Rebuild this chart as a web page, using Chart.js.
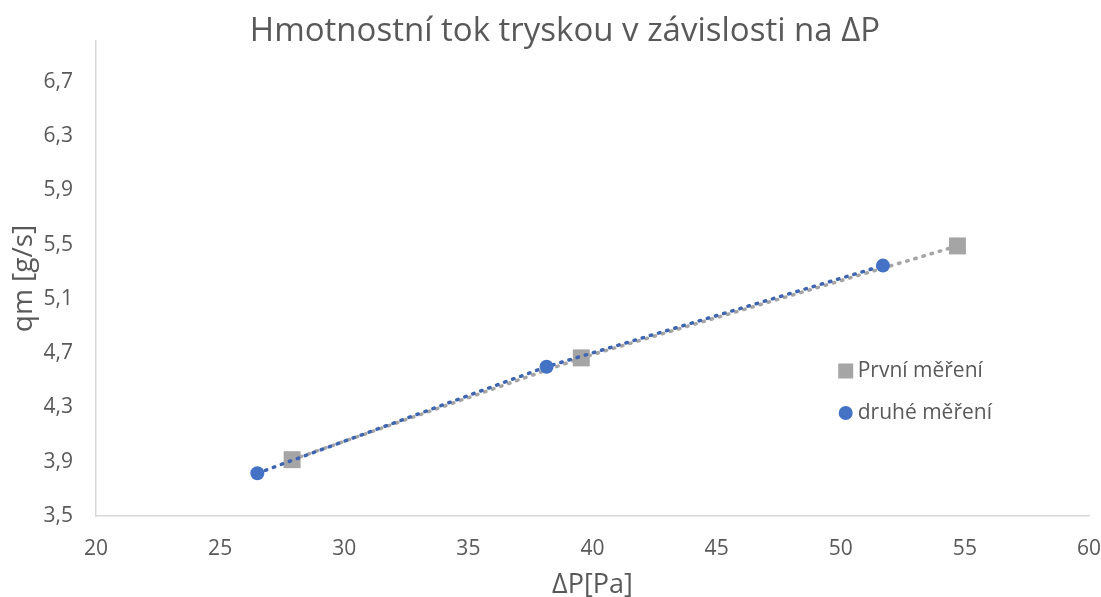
<!DOCTYPE html>
<html lang="cs">
<head>
<meta charset="utf-8">
<title>Hmotnostní tok tryskou v závislosti na ΔP</title>
<script src="https://cdn.jsdelivr.net/npm/chart.js@4.4.1/dist/chart.umd.min.js"></script>
<style>
    html, body { margin: 0; padding: 0; background: #fff; }
    #wrap { width: 1101px; height: 597px; }
</style>
</head>
<body>
<div id="wrap"><canvas id="chart" width="1101" height="597"></canvas></div>
<script>
// --- Data ---
const TITLE = 'Hmotnostní tok tryskou v závislosti na ΔP';
const X_TITLE = 'ΔP[Pa]';
const Y_TITLE = 'qm [g/s]';

const firstLabel = 'První měření';
const firstDp = [27.9, 39.55, 54.7];
const firstQm = [3.915, 4.665, 5.49];

const secondLabel = 'druhé měření';
const secondDp = [26.5, 38.15, 51.7];
const secondQm = [3.815, 4.6, 5.345];

const xTicks = [20, 25, 30, 35, 40, 45, 50, 55, 60];
const yTicks = [3.5, 3.9, 4.3, 4.7, 5.1, 5.5, 5.9, 6.3, 6.7];
const Y_MAX = 7.0;

// --- Style ---
const C_GRAY = '#a5a5a5';
const C_BLUE = '#4472c4';
const C_BLUE_LINE = '#3f65b0';
const C_TEXT = '#595959';
const C_AXIS = '#d9d9d9';
const FONT = "'Open Sans', 'Noto Sans', sans-serif";

function toPoints(xs, ys) {
    return xs.map((x, i) => ({ x, y: ys[i] }));
}

function czNum(v) {
    return Number.isInteger(v) ? String(v) : v.toFixed(1).replace('.', ',');
}

// Legend sits inside the plot area, like the Excel original.
const insideLegend = {
    id: 'insideLegend',
    afterDatasetsDraw(chart) {
        const { ctx, chartArea } = chart;
        const x0 = chartArea.left + (chartArea.right - chartArea.left) * 0.755;
        const rows = [
            { label: firstLabel, color: C_GRAY, shape: 'rect', y: chartArea.top + 330 },
            { label: secondLabel, color: C_BLUE, shape: 'circle', y: chartArea.top + 372 },
        ];
        ctx.save();
        ctx.font = `21px ${FONT}`;
        ctx.textBaseline = 'middle';
        ctx.textAlign = 'left';
        for (const r of rows) {
            ctx.fillStyle = r.color;
            if (r.shape === 'rect') {
                ctx.fillRect(x0 - 7.5, r.y - 7.5, 15, 15);
            } else {
                ctx.beginPath();
                ctx.arc(x0, r.y, 7, 0, Math.PI * 2);
                ctx.fill();
            }
            ctx.fillStyle = C_TEXT;
            ctx.fillText(r.label, x0 + 12, r.y);
        }
        ctx.restore();
    },
};

// Excel "round dot" dash: short round-capped dashes with a wide gap.
const dotted = { borderWidth: 3.5, borderDash: [1.5, 7], borderCapStyle: 'round', showLine: true };

new Chart(document.getElementById('chart'), {
    type: 'scatter',
    data: {
        datasets: [
            {
                label: firstLabel,
                data: toPoints(firstDp, firstQm),
                ...dotted,
                borderColor: C_GRAY,
                backgroundColor: C_GRAY,
                pointStyle: 'rect',
                pointRadius: 12,
                pointBorderWidth: 0,
                order: 2,
            },
            {
                label: secondLabel,
                data: toPoints(secondDp, secondQm),
                ...dotted,
                borderColor: C_BLUE_LINE,
                backgroundColor: C_BLUE,
                pointStyle: 'circle',
                pointRadius: 7,
                pointBorderWidth: 0,
                order: 1,
            },
        ],
    },
    options: {
        responsive: false,
        animation: false,
        // left padding only moves the title box so it centres like the original
        layout: { padding: { left: 40, right: 11, top: 0, bottom: 0 } },
        plugins: {
            legend: { display: false },
            tooltip: { enabled: false },
            title: {
                display: true,
                text: TITLE,
                color: C_TEXT,
                font: { family: FONT, size: 33, weight: 'normal', lineHeight: 1.2 },
                padding: { top: 12, bottom: -10.6 },
            },
        },
        scales: {
            x: {
                type: 'linear',
                min: xTicks[0],
                max: xTicks[xTicks.length - 1],
                afterBuildTicks: (axis) => { axis.ticks = xTicks.map((v) => ({ value: v })); },
                afterFit: (axis) => {
                    axis.height = 81;
                    axis.paddingLeft = 0;
                    axis.paddingRight = 0;
                },
                grid: { display: false, drawTicks: false },
                border: { display: true, color: C_AXIS, width: 1.5 },
                ticks: {
                    color: C_TEXT,
                    padding: 20,
                    maxRotation: 0,
                    font: { family: FONT, size: 21 },
                    callback: (v) => czNum(v),
                },
                title: {
                    display: true,
                    text: X_TITLE,
                    color: C_TEXT,
                    font: { family: FONT, size: 27 },
                    padding: { top: 0, bottom: -5 },
                },
            },
            y: {
                type: 'linear',
                min: yTicks[0],
                max: Y_MAX,
                afterBuildTicks: (axis) => { axis.ticks = yTicks.map((v) => ({ value: v })); },
                afterFit: (axis) => {
                    axis.width = 56;
                    axis.paddingTop = 0;
                    axis.paddingBottom = 0;
                },
                grid: { display: false, drawTicks: false },
                border: { display: true, color: C_AXIS, width: 1.5 },
                ticks: {
                    color: C_TEXT,
                    padding: 23,
                    font: { family: FONT, size: 21 },
                    callback: (v) => czNum(v),
                },
                title: {
                    display: true,
                    text: Y_TITLE,
                    color: C_TEXT,
                    font: { family: FONT, size: 28 },
                    padding: { top: -33, bottom: 0 },
                },
            },
        },
    },
    plugins: [insideLegend],
});
</script>
</body>
</html>
